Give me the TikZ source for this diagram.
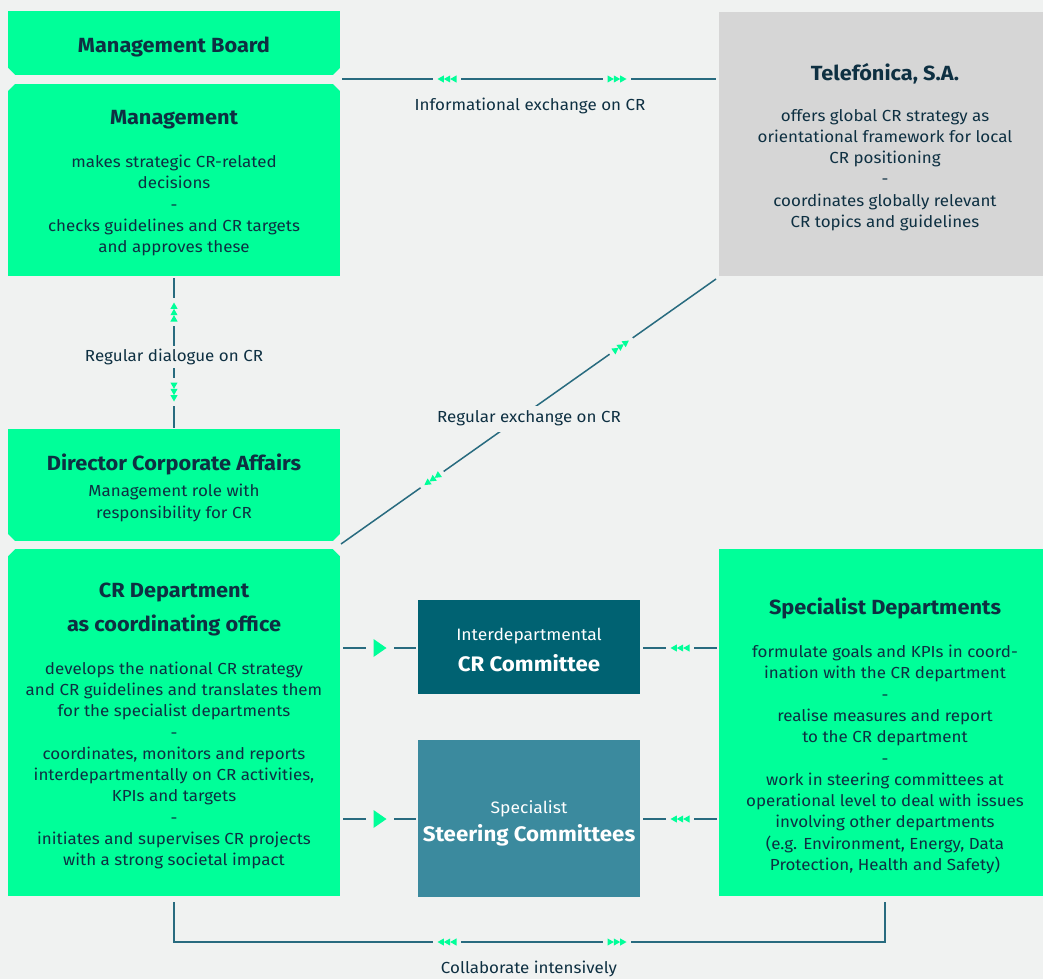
\documentclass[tikz,border=0pt]{standalone}
\usepackage{fontspec}
\setmainfont{Fira Sans}[FakeStretch=1.06]
\usetikzlibrary{calc}
\definecolor{bg}{HTML}{F0F2F1}
\definecolor{grn}{HTML}{00FF99}
\definecolor{gry}{HTML}{D6D6D6}
\definecolor{tealA}{HTML}{006272}
\definecolor{tealB}{HTML}{3B8A9E}
\definecolor{ink}{HTML}{0E3042}
\definecolor{ln}{HTML}{286B7F}
\tikzset{
  box/.style={rectangle, inner sep=0pt, outer sep=0pt, draw=none, anchor=north west},
  txt/.style={inner sep=0pt, yshift=-2.5pt},
  ttl/.style={txt, font=\fontsize{20.5}{24}\selectfont\bfseries, text=ink},
  body/.style={txt, font=\fontsize{16}{21.3}\selectfont, text=ink, align=center},
  lbl/.style={txt, font=\fontsize{16}{18}\selectfont, text=ink},
  wsub/.style={txt, font=\fontsize{16.5}{18}\selectfont, text=white},
  wttl/.style={txt, font=\fontsize{21}{24}\selectfont\bfseries, text=white},
  conn/.style={draw=ln, line width=1.5pt},
  triple/.pic={
    \fill[bg] (-14,-6) rectangle (14,6);
    \fill[grn] (-9.5,-3.6) -- (-3.1,0) -- (-9.5,3.6) -- cycle;
    \fill[grn] (-3.2,-3.6) -- (3.2,0) -- (-3.2,3.6) -- cycle;
    \fill[grn] (3.1,-3.6) -- (9.5,0) -- (3.1,3.6) -- cycle;
  },
  bigtri/.pic={
    \fill[bg] (-14,-10) rectangle (14,10);
    \fill[grn] (-6.5,-9) -- (6.5,0) -- (-6.5,9) -- cycle;
  }
}
\newcommand\chamf[4]{\fill[bg] (#1,#2) -- ++(#3,0) -- ++(-#3,#4) -- cycle;}
\begin{document}
\begin{tikzpicture}[x=1pt,y=-1pt]
\fill[bg] (0,0) rectangle (1043,979);
\useasboundingbox (0,0) rectangle (1043,979);

% boxes
\node[box, fill=grn, minimum width=332pt, minimum height=64pt] (mb) at (8,11) {};
\node[box, fill=grn, minimum width=332pt, minimum height=192pt] (mg) at (8,84) {};
\node[box, fill=grn, minimum width=332pt, minimum height=112pt] (dca) at (8,429) {};
\node[box, fill=grn, minimum width=332pt, minimum height=347pt] (crd) at (8,549) {};
\node[box, fill=gry, minimum width=324pt, minimum height=264pt] (tef) at (719,12) {};
\node[box, fill=grn, minimum width=324pt, minimum height=347pt] (spd) at (719,549) {};
\node[box, fill=tealA, minimum width=222pt, minimum height=94pt] (crc) at (418,600) {};
\node[box, fill=tealB, minimum width=222pt, minimum height=157pt] (stc) at (418,740) {};

% chamfers
\chamf{8}{75}{7}{-7}
\chamf{340}{75}{-7}{-7}
\chamf{8}{84}{7}{7}
\chamf{340}{84}{-7}{7}
\chamf{8}{541}{7}{-7}
\chamf{340}{541}{-7}{-7}
\chamf{8}{549}{7}{7}
\chamf{340}{549}{-7}{7}

% texts
\node[ttl] (tmb) at (174,44) {Management Board};
\node[ttl] (tmg) at (174,117) {Management};
\node[body] (bmg) at (174,203) {makes strategic CR-related\\decisions\\-\\checks guidelines and CR targets\\and approves these};
\node[ttl] (tdca) at (174,462) {Director Corporate Affairs};
\node[body] (bdca) at (174,500.5) {Management role with\\responsibility for CR};
\node[ttl] (tcrd1) at (174,590) {CR Department};
\node[ttl] (tcrd2) at (174,623) {as coordinating office};
\node[body] (bcrd) at (174,763) {develops the national CR strategy\\and CR guidelines and translates them\\for the specialist departments\\-\\coordinates, monitors and reports\\interdepartmentally on CR activities,\\KPIs and targets\\-\\initiates and supervises CR projects\\with a strong societal impact};
\node[ttl] (ttef) at (885,71) {Telefónica, S.A.};
\node[body] (btef) at (885,167.5) {offers global CR strategy as\\orientational framework for local\\CR positioning\\-\\coordinates globally relevant\\CR topics and guidelines};
\node[ttl] (tspd) at (885,606) {Specialist Departments};
\node[body] (bspd) at (885,757) {formulate goals and KPIs in coord-\\ination with the CR department\\-\\realise measures and report\\to the CR department\\-\\work in steering committees at\\operational level to deal with issues\\involving other departments\\(e.g. Environment, Energy, Data\\Protection, Health and Safety)};
\node[wsub] (tcrc1) at (529,634) {Interdepartmental};
\node[wttl] (tcrc2) at (529,661) {CR Committee};
\node[wsub] (tstc1) at (529,806) {Specialist};
\node[wttl] (tstc2) at (529,833) {Steering Committees};

% connectors
\coordinate (i1) at (342,79);
\coordinate (i2) at (716,79);
\draw[conn] (i1) -- (i2);
\pic[rotate=180] at (447,79) {triple};
\pic at (617,79) {triple};
\node[lbl] (linfo) at (530,103) {Informational exchange on CR};

\coordinate (v1) at (174,278);
\coordinate (v2) at (174,428);
\draw[conn] (v1) -- (v2);
\pic[rotate=90] at (174,312) {triple};
\pic[rotate=-90] at (174,392) {triple};
\node[lbl, fill=bg, minimum height=22pt] (ldia) at (174,354) {Regular dialogue on CR};

\coordinate (d1) at (341,544);
\coordinate (d2) at (716,279);
\draw[conn] (d1) -- (d2);
\pic[rotate=35.25] at ($(d1)!0.747!(d2)$) {triple};
\pic[rotate=215.25] at ($(d1)!0.243!(d2)$) {triple};
\node[lbl, fill=bg, minimum height=26pt] (lreg) at (529,416) {Regular exchange on CR};

\coordinate (c1) at (343,648);
\draw[conn] (c1) -- ($(crc.west |- c1)+(-2,0)$);
\pic at (380,648) {bigtri};
\coordinate (c2) at (717,648);
\draw[conn] ($(crc.east |- c2)+(3,0)$) -- (c2);
\pic[rotate=180] at (680,648) {triple};

\coordinate (s1) at (343,819);
\draw[conn] (s1) -- ($(stc.west |- s1)+(-2,0)$);
\pic at (380,819) {bigtri};
\coordinate (s2) at (717,819);
\draw[conn] ($(stc.east |- s2)+(3,0)$) -- (s2);
\pic[rotate=180] at (680,819) {triple};

\coordinate (b1) at (174,902);
\coordinate (b2) at (885,902);
\draw[conn] (b1) -- (174,942) -- (885,942) -- (b2);
\pic[rotate=180] at (447,942) {triple};
\pic at (617,942) {triple};
\node[lbl] (lcol) at (529,966) {Collaborate intensively};
\end{tikzpicture}
\end{document}
